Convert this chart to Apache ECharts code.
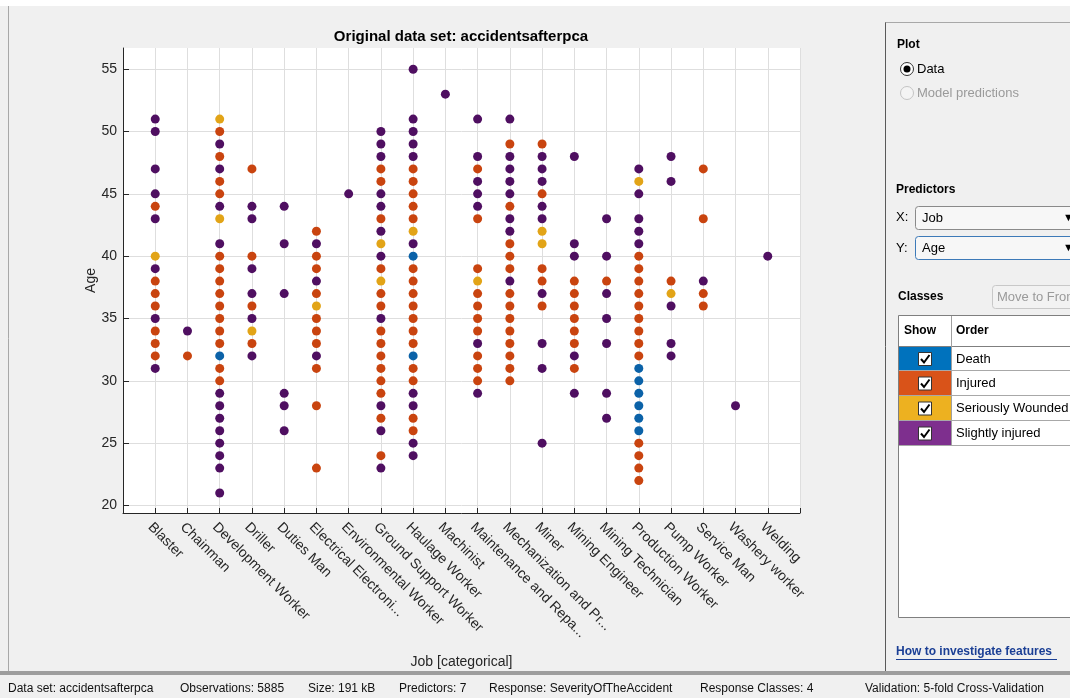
<!DOCTYPE html>
<html>
<head>
<meta charset="utf-8">
<title>Original data set: accidentsafterpca</title>
<script src="https://cdn.jsdelivr.net/npm/echarts@6/dist/echarts.min.js"></script>
<style>
  html, body { margin: 0; padding: 0; background: #f0f0f0; }
  #chart { width: 1070px; height: 698px; }
</style>
</head>
<body>
<div id="chart"></div>
<script>
// Job categories along the x axis (long names are shortened as in the app)
const jobs = [
  'Blaster', 'Chainman', 'Development Worker', 'Driller', 'Duties Man',
  'Electrical Electroni...', 'Environmental Worker', 'Ground Support Worker',
  'Haulage Worker', 'Machinist', 'Maintenance and Repa...', 'Mechanization and Pr...',
  'Miner', 'Mining Engineer', 'Mining Technician', 'Production Worker',
  'Pump Worker', 'Service Man', 'Washery worker', 'Welding'
];

// Ages observed for each class, one list per job (same order as jobs)
const deathAges = [
  [], [], [32], [], [], [], [], [], [40, 32], [], [], [], [], [], [],
  [31, 30, 29, 28, 27, 26], [], [], [], []
];
const injuredAges = [
  [44, 38, 37, 36, 34, 33, 32],
  [32],
  [50, 48, 46, 45, 40, 39, 38, 37, 36, 35, 34, 33, 31, 30],
  [47, 40, 36, 33],
  [],
  [42, 40, 39, 37, 35, 34, 33, 31, 28, 23],
  [],
  [47, 46, 43, 39, 37, 36, 34, 33, 32, 31, 30, 29, 27, 24],
  [47, 46, 45, 44, 43, 39, 38, 37, 36, 35, 34, 33, 31, 30, 27, 26],
  [],
  [47, 43, 39, 37, 36, 35, 34, 32, 31, 30],
  [49, 44, 41, 40, 39, 37, 36, 35, 34, 33, 32, 31, 30],
  [49, 45, 39, 38, 36],
  [38, 37, 36, 35, 34, 33, 31],
  [38],
  [40, 39, 38, 37, 36, 35, 34, 33, 32, 25, 24, 23, 22],
  [38],
  [47, 43, 37, 36],
  [],
  []
];
const seriouslyAges = [
  [40], [], [51, 43], [34], [], [36], [], [41, 38], [42], [], [38], [],
  [42, 41], [], [], [46], [37], [], [], []
];
const slightlyAges = [
  [51, 50, 47, 45, 43, 39, 35, 31],
  [34],
  [49, 47, 44, 41, 29, 28, 27, 26, 25, 24, 23, 21],
  [44, 43, 39, 37, 35, 32],
  [44, 41, 37, 29, 28, 26],
  [41, 38, 32],
  [45],
  [50, 49, 48, 45, 44, 42, 40, 35, 28, 26, 23],
  [55, 51, 50, 49, 48, 41, 29, 28, 25, 24],
  [53],
  [51, 48, 46, 45, 44, 33, 29],
  [51, 48, 47, 46, 45, 43, 42, 38],
  [48, 47, 46, 44, 43, 37, 33, 31, 25],
  [48, 41, 40, 32, 29],
  [43, 40, 37, 35, 33, 29, 27],
  [47, 45, 43, 42, 41],
  [48, 46, 36, 33, 32],
  [38],
  [28],
  [40]
];

const classNames = ['Death', 'Injured', 'Seriously Wounded', 'Slightly injured'];
const ageTicks = [20, 25, 30, 35, 40, 45, 50, 55];

// Status bar entries
const statusItems = [
  'Data set: accidentsafterpca', 'Observations: 5885', 'Size: 191 kB', 'Predictors: 7',
  'Response: SeverityOfTheAccident', 'Response Classes: 4', 'Validation: 5-fold Cross-Validation'
];

// Colours: markers in the plot and swatches in the class table
const markerColors = ['#0b62a8', '#c9440f', '#e2a417', '#4f0f61'];
const swatchColors = ['#0072bd', '#d95319', '#edb120', '#7e2f8e'];

const FONT = 'Liberation Sans, Arial, sans-serif';

// plot box in pixels
const PLOT = { left: 123, top: 48, width: 677, height: 465 };

function toPoints(perJob) {
  const pts = [];
  perJob.forEach((ages, j) => ages.forEach(a => pts.push([j, a])));
  return pts;
}

const classData = [deathAges, injuredAges, seriouslyAges, slightlyAges];

const series = [
  {
    // horizontal grid lines at the age ticks, kept beneath the markers
    type: 'scatter',
    data: [],
    z: 0,
    silent: true,
    markLine: {
      silent: true,
      z: 0,
      symbol: 'none',
      animation: false,
      label: { show: false },
      emphasis: { disabled: true },
      lineStyle: { color: '#dedede', type: 'solid', width: 1 },
      data: ageTicks.map(v => ({ yAxis: v }))
    }
  }
];
classData.forEach((perJob, i) => {
  series.push({
    name: classNames[i],
    type: 'scatter',
    z: 6,
    symbol: 'circle',
    symbolSize: 9,
    itemStyle: { color: markerColors[i], opacity: 1 },
    data: toPoints(perJob)
  });
});

// ---- plot background, right-hand panel and status bar as graphic elements ----
const g = [];
function text(x, y, s, opts) {
  g.push(Object.assign({
    type: 'text', x: x, y: y, silent: true,
    style: Object.assign({ text: s, fill: '#000', font: '12px ' + FONT, textVerticalAlign: 'middle' }, (opts || {}))
  }));
}
function rect(x, y, w, h, style, r, z) {
  g.push({ type: 'rect', silent: true, z: z || 0, shape: { x: x, y: y, width: w, height: h, r: r || 0 }, style: style });
}
function line(x1, y1, x2, y2, stroke, w) {
  g.push({ type: 'line', silent: true, shape: { x1: x1, y1: y1, x2: x2, y2: y2 }, style: { stroke: stroke, lineWidth: w || 1 } });
}

// white plot area behind everything
rect(PLOT.left, PLOT.top, PLOT.width, PLOT.height, { fill: '#ffffff' }, 0, -10);

// window strip and frames
rect(0, 0, 1070, 6, { fill: '#ffffff' });
line(8.5, 6, 8.5, 671, '#a8a8a8', 1);
line(885.5, 22, 885.5, 671, '#5a5a5a', 1);
line(885.5, 22.5, 1070, 22.5, '#a8a8a8', 1);
rect(0, 671, 1070, 4, { fill: '#9d9d9d' });

// plot title
text(461, 37, 'Original data set: accidentsafterpca', { font: 'bold 15px ' + FONT, textAlign: 'center' });

// Plot section
text(897, 45, 'Plot', { font: 'bold 12px ' + FONT });
g.push({ type: 'circle', silent: true, shape: { cx: 907, cy: 69, r: 6.5 }, style: { fill: '#fff', stroke: '#333', lineWidth: 1 } });
g.push({ type: 'circle', silent: true, shape: { cx: 907, cy: 69, r: 3.5 }, style: { fill: '#000' } });
text(917, 69, 'Data', { font: '13px ' + FONT });
g.push({ type: 'circle', silent: true, shape: { cx: 907, cy: 93, r: 6.5 }, style: { fill: '#f4f4f4', stroke: '#c4c4c4', lineWidth: 1 } });
text(917, 93, 'Model predictions', { font: '13px ' + FONT, fill: '#9a9a9a' });

// Predictors section
text(896, 190, 'Predictors', { font: 'bold 12px ' + FONT });
text(896, 217, 'X:', { font: '13px ' + FONT });
rect(915.5, 206.5, 170, 23, { fill: '#f7f7f7', stroke: '#8a8a8a', lineWidth: 1 }, 3);
text(922, 218, 'Job', { font: '13px ' + FONT });
text(1063, 218, '\u25BC', { font: '11px ' + FONT });
text(896, 248, 'Y:', { font: '13px ' + FONT });
rect(915.5, 236.5, 170, 23, { fill: '#f7f7f7', stroke: '#3d7ab8', lineWidth: 1 }, 3);
text(922, 248, 'Age', { font: '13px ' + FONT });
text(1063, 248, '\u25BC', { font: '11px ' + FONT });

// Classes section
text(898, 297, 'Classes', { font: 'bold 12px ' + FONT });
rect(992.5, 285.5, 100, 23, { fill: '#f2f2f2', stroke: '#c8c8c8', lineWidth: 1 }, 3);
text(997, 297, 'Move to Front', { font: '13px ' + FONT, fill: '#9a9a9a' });

// class table
rect(898.5, 315.5, 200, 302, { fill: '#ffffff', stroke: '#7f7f7f', lineWidth: 1 });
text(904, 331, 'Show', { font: 'bold 12px ' + FONT });
text(956, 331, 'Order', { font: 'bold 12px ' + FONT });
line(898.5, 346.5, 1070, 346.5, '#7f7f7f', 1);
line(951.5, 316, 951.5, 446, '#a0a0a0', 1);
const rowTop = [347, 371, 396, 421];
const rowH = [24, 25, 25, 25];
classNames.forEach((name, i) => {
  rect(899, rowTop[i], 52, rowH[i], { fill: swatchColors[i] });
  line(899, rowTop[i] + rowH[i] - 0.5, 1070, rowTop[i] + rowH[i] - 0.5, '#a8a8a8', 1);
  const cy = rowTop[i] + rowH[i] / 2;
  rect(918.5, cy - 6.5, 13, 13, { fill: '#ffffff', stroke: '#333333', lineWidth: 1 });
  g.push({ type: 'polyline', silent: true,
    shape: { points: [[921, cy], [924, cy + 3.5], [929.5, cy - 4]] },
    style: { stroke: '#000', lineWidth: 2, fill: null } });
  text(956, cy, name, { font: '13px ' + FONT });
});

// help link
text(896, 652, 'How to investigate features', { font: 'bold 12px ' + FONT, fill: '#1b3f95' });
line(896, 659.5, 1057, 659.5, '#1b3f95', 1);

// status bar
const statusX = [8, 180, 308, 399, 489, 700, 865];
statusItems.forEach((s, i) => text(statusX[i], 689, s, { font: '12px ' + FONT, fill: '#111' }));

const option = {
  backgroundColor: '#f0f0f0',
  animation: false,
  textStyle: { fontFamily: FONT },
  grid: {
    left: PLOT.left, top: PLOT.top, width: PLOT.width, height: PLOT.height,
    show: false
  },
  xAxis: {
    type: 'value',
    min: -1, max: 20, interval: 1,
    name: 'Job [categorical]',
    nameLocation: 'middle',
    nameGap: 142,
    nameTextStyle: { fontSize: 14, color: '#262626', fontFamily: FONT },
    axisLine: { show: true, onZero: false, lineStyle: { color: '#262626', width: 1 } },
    axisTick: { show: true, inside: true, length: 5, lineStyle: { color: '#262626' } },
    splitLine: { show: true, lineStyle: { color: '#dedede', width: 1 } },
    axisLabel: {
      rotate: -45,
      margin: 7,
      verticalAlign: 'top',
      fontSize: 14,
      color: '#262626',
      fontFamily: FONT,
      showMinLabel: true, showMaxLabel: true,
      formatter: v => (v >= 0 && v < jobs.length && Number.isInteger(v)) ? jobs[v] : ''
    }
  },
  yAxis: {
    type: 'value',
    min: 19.4, max: 56.7,
    name: 'Age',
    nameLocation: 'middle',
    nameGap: 25,
    nameMoveOverlap: false,
    nameRotate: 90,
    nameTextStyle: { fontSize: 14, color: '#262626', fontFamily: FONT },
    axisLine: { show: true, onZero: false, lineStyle: { color: '#262626', width: 1 } },
    axisTick: { show: true, inside: true, length: 6, customValues: ageTicks, lineStyle: { color: '#262626' } },
    splitLine: { show: false },
    axisLabel: { customValues: ageTicks, fontSize: 14, color: '#262626', margin: 6, fontFamily: FONT }
  },
  graphic: { elements: g },
  series: series
};

const chart = echarts.init(document.getElementById('chart'), null, { renderer: 'canvas' });
chart.setOption(option);
</script>
</body>
</html>
